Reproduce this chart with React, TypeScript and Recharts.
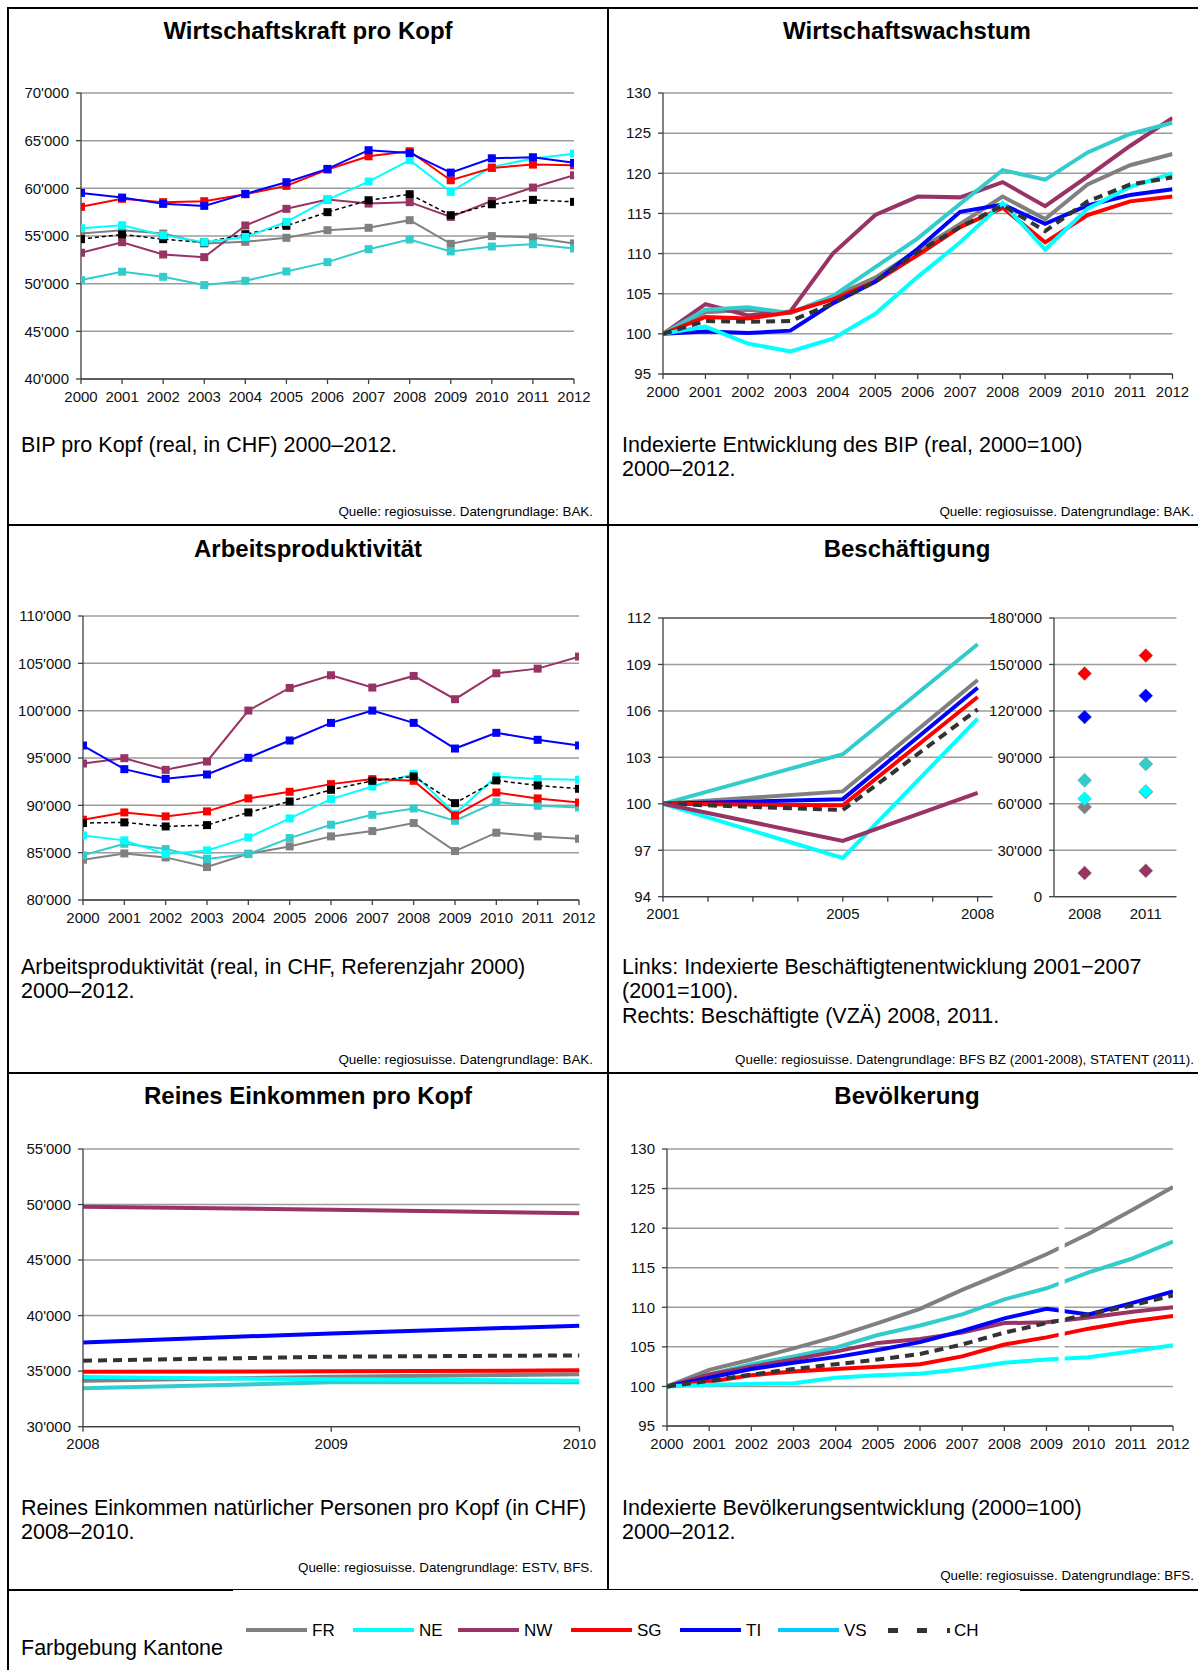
import React from "react";
import {
  LineChart,
  ComposedChart,
  Line,
  XAxis,
  YAxis,
  CartesianGrid,
  ReferenceLine,
} from "recharts";

// categories
const YEARS = [2000, 2001, 2002, 2003, 2004, 2005, 2006, 2007, 2008, 2009, 2010, 2011, 2012];
const EMP_YEARS = [2001, 2005, 2008];
const EMP_ABS_YEARS = ["2008", "2011"];
const INC_YEARS = [2008, 2009, 2010];

// BIP pro Kopf (CHF)
const gdpFR = [55260, 55610, 55260, 54220, 54390, 54810, 55610, 55860, 56660, 54180, 54990, 54850, 54220];
const gdpNE = [55820, 56130, 55090, 54350, 54900, 56480, 58820, 60710, 62950, 59630, 62250, 63120, 63640];
const gdpNW = [53240, 54350, 53060, 52780, 56100, 57850, 58820, 58400, 58550, 57000, 58680, 60080, 61370];
const gdpSG = [58060, 58900, 58550, 58650, 59380, 60260, 61970, 63360, 63890, 60850, 62140, 62490, 62420];
const gdpTI = [59520, 59030, 58370, 58160, 59420, 60640, 62040, 64000, 63710, 61650, 63150, 63260, 62670];
const gdpVS = [50370, 51250, 50720, 49850, 50300, 51280, 52260, 53620, 54630, 53380, 53900, 54140, 53690];
const gdpCH = [54670, 55160, 54670, 54320, 55190, 56070, 57500, 58750, 59380, 57180, 58330, 58790, 58580];

// BIP Index (2000=100)
const growFR = [100, 102.7, 103.0, 102.6, 104.6, 107.0, 110.4, 113.7, 117.1, 114.3, 118.6, 121.0, 122.4];
const growNE = [100, 100.9, 98.8, 97.8, 99.4, 102.5, 107.1, 111.4, 116.3, 110.5, 115.6, 118.3, 120.0];
const growNW = [100, 103.7, 102.3, 102.8, 110.0, 114.8, 117.1, 117.0, 118.9, 115.9, 119.6, 123.4, 126.9];
const growSG = [100, 102.1, 101.9, 102.7, 104.3, 106.5, 109.8, 113.3, 115.7, 111.4, 114.8, 116.5, 117.1];
const growTI = [100, 100.3, 100.1, 100.4, 103.8, 106.5, 110.6, 115.2, 116.1, 113.7, 116.0, 117.3, 118.0];
const growVS = [100, 103.0, 103.3, 102.6, 104.7, 108.3, 111.9, 116.2, 120.4, 119.2, 122.6, 124.9, 126.3];
const growCH = [100, 101.6, 101.5, 101.6, 103.8, 106.5, 110.2, 113.3, 116.0, 112.8, 116.5, 118.6, 119.5];

// Arbeitsproduktivität (CHF)
const prodFR = [84260, 84920, 84500, 83480, 84890, 85660, 86720, 87280, 88130, 85170, 87110, 86720, 86470];
const prodNE = [86820, 86300, 84850, 85240, 86610, 88620, 90660, 91990, 93330, 89110, 93050, 92770, 92700];
const prodNW = [94420, 94980, 93750, 94630, 100010, 102400, 103740, 102440, 103670, 101210, 103950, 104440, 105710];
const prodSG = [88480, 89250, 88830, 89360, 90730, 91430, 92240, 92770, 92590, 88930, 91360, 90730, 90300];
const prodTI = [96320, 93820, 92800, 93260, 95020, 96850, 98710, 100010, 98710, 96000, 97660, 96920, 96320];
const prodVS = [84710, 85940, 85380, 84330, 84850, 86540, 87950, 89000, 89670, 88370, 90340, 89950, 89780];
const prodCH = [88130, 88200, 87770, 87910, 89250, 90410, 91640, 92590, 93050, 90230, 92630, 92100, 91750];

// Beschäftigung Index (2001=100)
const empFR = [100, 100.8, 108.0];
const empNE = [100, 96.5, 105.5];
const empNW = [100, 97.6, 100.7];
const empSG = [100, 99.9, 106.9];
const empTI = [100, 100.3, 107.5];
const empVS = [100, 103.2, 110.3];
const empCH = [100, 99.6, 106.1];

// Beschäftigte (VZÄ) 2008, 2011
const vzaFR = [57900, 67600];
const vzaNE = [63300, 68000];
const vzaNW = [15300, 16800];
const vzaSG = [144100, 155700];
const vzaTI = [116100, 129800];
const vzaVS = [75200, 85700];

// Reines Einkommen pro Kopf (CHF)
const incFR = [34140, 34500, 34710];
const incNE = [34470, 34260, 34140];
const incNW = [49810, 49540, 49210];
const incSG = [34950, 34980, 35070];
const incTI = [37590, 38400, 39090];
const incVS = [33450, 33990, 33990];
const incCH = [35940, 36300, 36420];

// Bevölkerung Index (2000=100)
const popFR = [100, 102.1, 103.4, 104.8, 106.3, 108.0, 109.8, 112.2, 114.4, 116.7, 119.3, 122.2, 125.2];
const popNE = [100, 100.2, 100.3, 100.4, 101.1, 101.4, 101.6, 102.2, 103.0, 103.4, 103.7, 104.4, 105.2];
const popNW = [100, 101.5, 102.5, 103.4, 104.4, 105.5, 106.0, 106.8, 108.0, 108.1, 108.7, 109.4, 110.0];
const popSG = [100, 100.6, 101.4, 101.9, 102.2, 102.5, 102.8, 103.8, 105.3, 106.2, 107.3, 108.2, 108.9];
const popTI = [100, 101.1, 102.2, 103.0, 103.7, 104.6, 105.6, 107.0, 108.6, 109.8, 109.1, 110.5, 112.0];
const popVS = [100, 101.5, 102.8, 103.8, 104.9, 106.5, 107.7, 109.1, 111.0, 112.4, 114.4, 116.1, 118.3];
const popCH = [100, 100.7, 101.5, 102.2, 102.8, 103.4, 104.1, 105.3, 106.8, 108.0, 109.1, 110.2, 111.5];

// tick values
const TICKS_GDP = [40000, 45000, 50000, 55000, 60000, 65000, 70000];
const TICKS_IDX = [95, 100, 105, 110, 115, 120, 125, 130];
const TICKS_PROD = [80000, 85000, 90000, 95000, 100000, 105000, 110000];
const TICKS_EMP = [94, 97, 100, 103, 106, 109, 112];
const TICKS_VZA = [0, 30000, 60000, 90000, 120000, 150000, 180000];
const TICKS_INC = [30000, 35000, 40000, 45000, 50000, 55000];
const EMP_AXIS_YEARS = [2001, 2002, 2003, 2004, 2005, 2006, 2007, 2008];

const LEGEND = ["FR", "NE", "NW", "SG", "TI", "VS", "CH"];

const FONT = '"Liberation Sans", Arial, Helvetica, sans-serif';
const COLORS: Record<string, string> = {
  FR: "#808080",
  NE: "#00FFFF",
  NW: "#993366",
  SG: "#FF0000",
  TI: "#0000FF",
  VS: "#33CCCC",
  CH: "#333333",
};
const LEGEND_COLORS: Record<string, string> = { ...COLORS, VS: "#00CCFF" };

const AX = { stroke: "#404040", strokeWidth: 1.3 };
const TICK = { fill: "#111", fontSize: 15, fontFamily: FONT };
const GRID = "#9c9c9c";

const fmtK = (v: number) => (v === 0 ? "0" : `${v / 1000}'000`);

function rows(xs: (number | string)[], series: Record<string, number[]>) {
  return xs.map((x, i) => {
    const r: any = { x };
    Object.keys(series).forEach((k) => (r[k] = series[k][i]));
    return r;
  });
}

// position a chart so that its plot area lands on (pl,pt)-(pr,pb)
function place(pl: number, pt: number, pr: number, pb: number, yW = 72) {
  const mt = 10, mr = 30, mb = 5, xh = 30;
  const left = pl - yW;
  const top = pt - mt;
  return {
    style: { position: "absolute" as const, left, top },
    width: pr - left + mr,
    height: pb - top + mb + xh,
    margin: { top: mt, right: mr, bottom: mb, left: 0 },
    yW,
    plotW: pr - pl,
  };
}

const square = (color: string, size = 8) => (p: any) => {
  if (p.cx == null || p.cy == null) return <g key={p.index} />;
  return <rect key={p.index} x={p.cx - size / 2} y={p.cy - size / 2} width={size} height={size} fill={color} />;
};

const diamond = (color: string, r = 7) => (p: any) => {
  if (p.cx == null || p.cy == null) return <g key={p.index} />;
  const { cx, cy } = p;
  return (
    <polygon
      key={p.index}
      points={`${cx},${cy - r} ${cx + r},${cy} ${cx},${cy + r} ${cx - r},${cy}`}
      fill={color}
      stroke="#777"
      strokeOpacity={0.35}
      strokeWidth={1}
    />
  );
};

function rightBorder() {
  return (
    <YAxis
      yAxisId="rb"
      orientation="right"
      width={0}
      domain={[0, 1]}
      tick={false}
      tickLine={false}
      axisLine={{ stroke: GRID, strokeWidth: 1.5 }}
    />
  );
}

type TSProps = {
  box: ReturnType<typeof place>;
  data: any[];
  order: string[];
  xDomain: [number, number];
  xTicks: number[];
  xFmt?: (v: number) => string;
  yDomain: [number, number];
  yTicks: number[];
  yFmt?: (v: number) => string;
  markers?: boolean;
  border?: boolean;
  children?: React.ReactNode;
};

function TimeChart({ box, data, order, xDomain, xTicks, xFmt, yDomain, yTicks, yFmt, markers, border = true, children }: TSProps) {
  return (
    <div style={box.style}>
      <LineChart width={box.width} height={box.height} margin={box.margin} data={data}>
        <CartesianGrid vertical={false} stroke={GRID} strokeWidth={1.5} />
        <XAxis
          type="number"
          dataKey="x"
          domain={xDomain}
          ticks={xTicks}
          interval={0}
          tickFormatter={xFmt}
          tick={TICK}
          tickLine={AX}
          axisLine={AX}
          tickSize={5}
          tickMargin={7}
          height={30}
          allowDataOverflow
        />
        <YAxis
          type="number"
          domain={yDomain}
          ticks={yTicks}
          interval={0}
          tickFormatter={yFmt}
          width={box.yW}
          tick={TICK}
          tickLine={AX}
          axisLine={AX}
          tickSize={5}
          tickMargin={7}
          allowDataOverflow
        />
        {border && rightBorder()}
        {order.map((k) => {
          const isCH = k === "CH";
          if (markers) {
            const c = isCH ? "#000" : COLORS[k];
            return (
              <Line
                key={k}
                dataKey={k}
                stroke={c}
                strokeWidth={isCH ? 1.5 : 2}
                strokeDasharray={isCH ? "4 3" : undefined}
                dot={square(c)}
                activeDot={false}
                isAnimationActive={false}
              />
            );
          }
          return (
            <Line
              key={k}
              dataKey={k}
              stroke={COLORS[k]}
              strokeWidth={4}
              strokeDasharray={isCH ? "9 6" : undefined}
              dot={false}
              activeDot={false}
              isAnimationActive={false}
            />
          );
        })}
        {children}
      </LineChart>
    </div>
  );
}

function T({ x, y, size, bold, right, children }: { x: number; y: number; size: number; bold?: boolean; right?: boolean; children: React.ReactNode }) {
  const lh = Math.round(size * 1.2);
  const st: React.CSSProperties = {
    position: "absolute",
    top: y - lh / 2,
    fontSize: size,
    lineHeight: `${lh}px`,
    fontWeight: bold ? 700 : 400,
    whiteSpace: "nowrap",
    color: "#000",
  };
  if (right) st.right = 1198 - x;
  else st.left = x;
  return <div style={st}>{children}</div>;
}

function Title({ x0, x1, y, children }: { x0: number; x1: number; y: number; children: React.ReactNode }) {
  return (
    <div
      style={{
        position: "absolute",
        left: x0,
        width: x1 - x0,
        top: y - 15,
        lineHeight: "30px",
        textAlign: "center",
        fontSize: 24,
        fontWeight: 700,
      }}
    >
      {children}
    </div>
  );
}

const FRAME = [
  { left: 7, top: 7, width: 1191, height: 2 },
  { left: 7, top: 7, width: 2, height: 1663 },
  { left: 607, top: 7, width: 2, height: 1583 },
  { left: 7, top: 524, width: 1191, height: 2 },
  { left: 7, top: 1072, width: 1191, height: 2 },
  { left: 7, top: 1589, width: 226, height: 2 },
  { left: 233, top: 1589, width: 787, height: 1 },
  { left: 1020, top: 1589, width: 178, height: 2 },
];

const LEGEND_X = [246, 353, 458, 571, 680, 778, 886];
const CAP = 21.5;
const SRC = 13.4;

export default function App() {
  const d1 = rows(YEARS, { FR: gdpFR, NE: gdpNE, NW: gdpNW, SG: gdpSG, TI: gdpTI, VS: gdpVS, CH: gdpCH });
  const d2 = rows(YEARS, { FR: growFR, NE: growNE, NW: growNW, SG: growSG, TI: growTI, VS: growVS, CH: growCH });
  const d3 = rows(YEARS, { FR: prodFR, NE: prodNE, NW: prodNW, SG: prodSG, TI: prodTI, VS: prodVS, CH: prodCH });
  const d4 = rows(EMP_YEARS, { FR: empFR, NE: empNE, NW: empNW, SG: empSG, TI: empTI, VS: empVS, CH: empCH });
  const d4r = rows(EMP_ABS_YEARS, { FR: vzaFR, NE: vzaNE, NW: vzaNW, SG: vzaSG, TI: vzaTI, VS: vzaVS });
  const d5 = rows(INC_YEARS, { FR: incFR, NE: incNE, NW: incNW, SG: incSG, TI: incTI, VS: incVS, CH: incCH });
  const d6 = rows(YEARS, { FR: popFR, NE: popNE, NW: popNW, SG: popSG, TI: popTI, VS: popVS, CH: popCH });

  const b1 = place(81, 93, 574, 379);
  const b2 = place(662.5, 92.7, 1172, 373.7);
  const b3 = place(83, 616, 579, 900);
  const b4 = place(662.5, 618.3, 992, 897);
  const b4r = place(1053.6, 618.3, 1176, 897);
  const b5 = place(83, 1149, 579.5, 1426.7);
  const b6 = place(667, 1149.3, 1173, 1426.3);

  // half a band on each side so the two years sit at band centres
  const bandPad = b4r.plotW / (EMP_ABS_YEARS.length * 2);

  const yr = YEARS[YEARS.length - 1];

  return (
    <div
      style={{
        position: "absolute",
        left: 0,
        top: 0,
        width: 1198,
        height: 1670,
        background: "#fff",
        fontFamily: FONT,
        overflow: "hidden",
      }}
    >
      {FRAME.map((f, i) => (
        <div key={i} style={{ position: "absolute", background: "#000", ...f }} />
      ))}

      <Title x0={8} x1={608} y={31}>Wirtschaftskraft pro Kopf</Title>
      <Title x0={608} x1={1206} y={31}>Wirtschaftswachstum</Title>
      <Title x0={8} x1={608} y={549}>Arbeitsproduktivität</Title>
      <Title x0={608} x1={1206} y={549}>Beschäftigung</Title>
      <Title x0={8} x1={608} y={1096}>Reines Einkommen pro Kopf</Title>
      <Title x0={608} x1={1206} y={1096}>Bevölkerung</Title>

      <TimeChart
        box={b1}
        data={d1}
        order={["FR", "VS", "NW", "CH", "NE", "SG", "TI"]}
        xDomain={[YEARS[0], yr]}
        xTicks={YEARS}
        yDomain={[40000, 70000]}
        yTicks={TICKS_GDP}
        yFmt={fmtK}
        markers
      />
      <TimeChart
        box={b2}
        data={d2}
        order={["FR", "NW", "VS", "SG", "TI", "NE", "CH"]}
        xDomain={[YEARS[0], yr]}
        xTicks={YEARS}
        yDomain={[95, 130]}
        yTicks={TICKS_IDX}
      />
      <TimeChart
        box={b3}
        data={d3}
        order={["FR", "VS", "NE", "NW", "TI", "SG", "CH"]}
        xDomain={[YEARS[0], yr]}
        xTicks={YEARS}
        yDomain={[80000, 110000]}
        yTicks={TICKS_PROD}
        yFmt={fmtK}
        markers
      />
      <TimeChart
        box={b4}
        data={d4}
        order={["VS", "FR", "TI", "SG", "CH", "NE", "NW"]}
        xDomain={[2001, 2008.33]}
        xTicks={EMP_AXIS_YEARS}
        xFmt={(v) => (EMP_YEARS.includes(v) ? String(v) : "")}
        yDomain={[94, 112]}
        yTicks={TICKS_EMP}
        border={false}
      >
        <ReferenceLine y={112} stroke="#666" strokeWidth={1.5} />
      </TimeChart>

      <div style={b4r.style}>
        <ComposedChart width={b4r.width} height={b4r.height} margin={b4r.margin} data={d4r}>
          <CartesianGrid vertical={false} stroke={GRID} strokeWidth={1.5} />
          <XAxis
            dataKey="x"
            type="category"
            tick={TICK}
            tickLine={false}
            axisLine={AX}
            tickSize={5}
            tickMargin={7}
            height={30}
            padding={{ left: bandPad, right: bandPad }}
          />
          <YAxis
            type="number"
            domain={[0, 180000]}
            ticks={TICKS_VZA}
            interval={0}
            tickFormatter={fmtK}
            width={b4r.yW}
            tick={TICK}
            tickLine={AX}
            axisLine={AX}
            tickSize={5}
            tickMargin={7}
          />
          {rightBorder()}
          {["SG", "TI", "VS", "FR", "NE", "NW"].map((k) => (
            <Line
              key={k}
              dataKey={k}
              stroke="none"
              strokeWidth={0}
              dot={diamond(COLORS[k])}
              activeDot={false}
              isAnimationActive={false}
            />
          ))}
        </ComposedChart>
      </div>

      <TimeChart
        box={b5}
        data={d5}
        order={["VS", "FR", "NE", "SG", "CH", "TI", "NW"]}
        xDomain={[INC_YEARS[0], INC_YEARS[2]]}
        xTicks={INC_YEARS}
        yDomain={[30000, 55000]}
        yTicks={TICKS_INC}
        yFmt={fmtK}
      />
      <TimeChart
        box={b6}
        data={d6}
        order={["FR", "VS", "NW", "TI", "SG", "NE", "CH"]}
        xDomain={[YEARS[0], yr]}
        xTicks={YEARS}
        yDomain={[95, 130]}
        yTicks={TICKS_IDX}
      >
        <ReferenceLine
          segment={[
            { x: 2009.36, y: 103.2 },
            { x: 2009.36, y: 120.2 },
          ]}
          stroke="#fff"
          strokeWidth={6}
        />
      </TimeChart>

      {/* captions */}
      <T x={21} y={445} size={CAP}>BIP pro Kopf (real, in CHF) 2000–2012.</T>
      <T x={622} y={445} size={CAP}>Indexierte Entwicklung des BIP (real, 2000=100)</T>
      <T x={622} y={469} size={CAP}>2000–2012.</T>
      <T x={21} y={967} size={CAP}>Arbeitsproduktivität (real, in CHF, Referenzjahr 2000)</T>
      <T x={21} y={991} size={CAP}>2000–2012.</T>
      <T x={622} y={967} size={CAP}>Links: Indexierte Beschäftigtenentwicklung 2001−2007</T>
      <T x={622} y={991} size={CAP}>(2001=100).</T>
      <T x={622} y={1016} size={CAP}>Rechts: Beschäftigte (VZÄ) 2008, 2011.</T>
      <T x={21} y={1508} size={CAP}>Reines Einkommen natürlicher Personen pro Kopf (in CHF)</T>
      <T x={21} y={1532} size={CAP}>2008–2010.</T>
      <T x={622} y={1508} size={CAP}>Indexierte Bevölkerungsentwicklung (2000=100)</T>
      <T x={622} y={1532} size={CAP}>2000–2012.</T>

      {/* sources */}
      <T x={593} y={512} size={SRC} right>Quelle: regiosuisse. Datengrundlage: BAK.</T>
      <T x={1194} y={512} size={SRC} right>Quelle: regiosuisse. Datengrundlage: BAK.</T>
      <T x={593} y={1060} size={SRC} right>Quelle: regiosuisse. Datengrundlage: BAK.</T>
      <T x={1194} y={1060} size={SRC} right>Quelle: regiosuisse. Datengrundlage: BFS BZ (2001-2008), STATENT (2011).</T>
      <T x={593} y={1568} size={SRC} right>Quelle: regiosuisse. Datengrundlage: ESTV, BFS.</T>
      <T x={1194} y={1576} size={SRC} right>Quelle: regiosuisse. Datengrundlage: BFS.</T>

      {/* shared legend */}
      <T x={21} y={1648} size={CAP}>Farbgebung Kantone</T>
      {LEGEND.map((k, i) => {
        const x = LEGEND_X[i];
        const isCH = k === "CH";
        return (
          <React.Fragment key={k}>
            <div
              style={{
                position: "absolute",
                left: isCH ? x + 2 : x,
                top: 1628,
                width: isCH ? 62 : 61,
                height: isCH ? 5 : 4,
                background: isCH
                  ? "repeating-linear-gradient(to right, #333 0 10px, transparent 10px 29.5px)"
                  : LEGEND_COLORS[k],
              }}
            />
            <T x={isCH ? x + 68 : x + 66} y={1631} size={17}>
              {k}
            </T>
          </React.Fragment>
        );
      })}
    </div>
  );
}
